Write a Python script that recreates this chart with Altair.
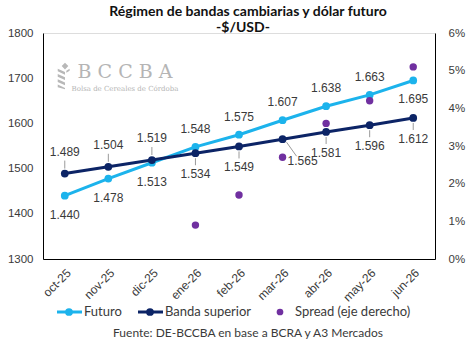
import altair as alt
import pandas as pd

# ---- data ----
months = ["oct-25", "nov-25", "dic-25", "ene-26", "feb-26", "mar-26", "abr-26", "may-26", "jun-26"]
futuro = [1440, 1478, 1513, 1548, 1575, 1607, 1638, 1663, 1695]
banda = [1489, 1504, 1519, 1534, 1549, 1565, 1581, 1596, 1612]
spread = [None, None, None, 0.9, 1.7, 2.7, 3.6, 4.2, 5.1]
left_ticks = [1300, 1400, 1500, 1600, 1700, 1800]
right_ticks = [0, 1, 2, 3, 4, 5, 6]

# label placement (style)
fut_below = ["oct-25", "nov-25", "dic-25", "jun-26"]
banda_above = ["oct-25", "nov-25", "dic-25"]
banda_diag = ["mar-26"]


def fmt(v):
    return f"{v:,}".replace(",", ".")


df = pd.DataFrame({
    "mes": months,
    "futuro": futuro,
    "banda": banda,
    "spread": spread,
    "fut_lbl": [fmt(v) for v in futuro],
    "banda_lbl": [fmt(v) for v in banda],
})

C_FUT = "#1CB3EC"
C_BANDA = "#0C2466"
C_SPREAD = "#7030A0"
TXT = "#3a3a3a"
FONT = "Liberation Sans"

x_enc = alt.X(
    "mes:N", sort=months,
    scale=alt.Scale(type="point", padding=0.5),
    axis=alt.Axis(title=None, labelAngle=-45, ticks=False, domainColor="black",
                  domainWidth=1, labelFontSize=12, labelColor=TXT, labelFont=FONT,
                  labelPadding=8),
)
yscale = alt.Scale(domain=[1300, 1800], nice=False, zero=False)
left_axis = alt.Axis(title=None, values=left_ticks, grid=False, ticks=False, format="d",
                     domainColor="black", labelFontSize=11.5, labelColor=TXT,
                     labelFont=FONT, labelPadding=10)


def yl(field):
    return alt.Y(f"{field}:Q", scale=yscale, axis=left_axis)


base = alt.Chart(df)

fut_line = base.mark_line(color=C_FUT, strokeWidth=3,
                          point=alt.OverlayMarkDef(size=60, filled=True, color=C_FUT, opacity=1)).encode(
    x=x_enc, y=yl("futuro"))
banda_line = base.mark_line(color=C_BANDA, strokeWidth=3,
                            point=alt.OverlayMarkDef(size=60, filled=True, color=C_BANDA, opacity=1)).encode(
    x=x_enc, y=yl("banda"))

lbl = dict(fontSize=12, font=FONT, color=TXT)
fut_up = base.transform_filter(
    alt.FieldOneOfPredicate(field="mes", oneOf=[m for m in months if m not in fut_below])
).mark_text(dy=-18, **lbl).encode(x=x_enc, y=yl("futuro"), text="fut_lbl:N")
fut_dn = base.transform_filter(
    alt.FieldOneOfPredicate(field="mes", oneOf=fut_below)
).mark_text(dy=19, **lbl).encode(x=x_enc, y=yl("futuro"), text="fut_lbl:N")

ban_up = base.transform_filter(
    alt.FieldOneOfPredicate(field="mes", oneOf=banda_above)
).mark_text(dy=-22, **lbl).encode(x=x_enc, y=yl("banda"), text="banda_lbl:N")
ban_dn = base.transform_filter(
    alt.FieldOneOfPredicate(field="mes", oneOf=[m for m in months if m not in banda_above + banda_diag])
).mark_text(dy=21, **lbl).encode(x=x_enc, y=yl("banda"), text="banda_lbl:N")
ban_dg = base.transform_filter(
    alt.FieldOneOfPredicate(field="mes", oneOf=banda_diag)
).mark_text(dx=20, dy=22, **lbl).encode(x=x_enc, y=yl("banda"), text="banda_lbl:N")

lead = dict(color="#9a9a9a", strokeWidth=1)
lead_up = base.transform_filter(
    alt.FieldOneOfPredicate(field="mes", oneOf=banda_above)
).mark_rule(yOffset=-5, y2Offset=-13, **lead).encode(x=x_enc, y=yl("banda"), y2="banda:Q")
lead_dn = base.transform_filter(
    alt.FieldOneOfPredicate(field="mes", oneOf=[m for m in months if m not in banda_above + banda_diag])
).mark_rule(yOffset=5, y2Offset=12, **lead).encode(x=x_enc, y=yl("banda"), y2="banda:Q")
lead_dg = base.transform_filter(
    alt.FieldOneOfPredicate(field="mes", oneOf=banda_diag)
).mark_rule(xOffset=4, x2Offset=14, yOffset=3, y2Offset=17, **lead).encode(
    x=x_enc, x2="mes:N", y=yl("banda"), y2="banda:Q")

left = alt.layer(fut_line, lead_up, lead_dn, lead_dg, banda_line, fut_up, fut_dn, ban_up, ban_dn, ban_dg)

right = base.mark_circle(size=55, color=C_SPREAD, opacity=1).encode(
    x=x_enc,
    y=alt.Y("spread:Q", scale=alt.Scale(domain=[0, 6], nice=False),
            axis=alt.Axis(title=None, orient="right", values=right_ticks, grid=False,
                          ticks=False, domainColor="black", labelFontSize=11.5,
                          labelColor=TXT, labelFont=FONT, labelPadding=13,
                          labelExpr="datum.value + '%'")),
)

one = alt.Chart(pd.DataFrame({"a": [0]}))
TF = "Lato"


def txt(s, x, y, size, weight="normal", align="center", color=TXT, font=TF):
    return one.mark_text(text=s, fontSize=size, fontWeight=weight, align=align,
                         baseline="middle", color=color, font=font).encode(
        x=alt.value(x), y=alt.value(y))


title1 = txt("Régimen de bandas cambiarias y dólar futuro", 205, -21, 14, "bold", color="#111")
title2 = txt("-$/USD-", 200, -5, 14, "bold", color="#111")

# watermark
wm1 = txt("B C C B A", 82, 39, 19, color="#b5b5b5", font="DejaVu Serif")
wm2 = txt("Bolsa de Cereales de Córdoba", 82, 56, 7, color="#b5b5b5", font="DejaVu Serif")
wheat_path = ("M0,-1L0.25,-0.75L0,-0.5L-0.25,-0.75Z "
              "M-0.55,-0.55L0,-0.3L0,-0.1L-0.55,-0.35Z "
              "M-0.55,-0.15L0,0.1L0,0.3L-0.55,0.05Z "
              "M-0.55,0.25L0,0.5L0,0.7L-0.55,0.45Z "
              "M-0.55,0.65L0,0.9L0,1L-0.55,0.85Z "
              "M0.1,-0.4L0.35,-0.55L0.35,-0.4L0.1,-0.25Z")
wheat = one.mark_point(shape=wheat_path, filled=True, color="#b8b8b8", opacity=1, size=700,
                       strokeWidth=0).encode(x=alt.value(22), y=alt.value(43))

# legend
LY = 279
leg = [
    one.mark_rule(color=C_FUT, strokeWidth=3).encode(x=alt.value(14), x2=alt.value(39), y=alt.value(LY)),
    one.mark_circle(color=C_FUT, size=60, opacity=1).encode(x=alt.value(26), y=alt.value(LY)),
    txt("Futuro", 41, LY, 13, align="left"),
    one.mark_rule(color=C_BANDA, strokeWidth=3).encode(x=alt.value(95), x2=alt.value(120), y=alt.value(LY)),
    one.mark_circle(color=C_BANDA, size=60, opacity=1).encode(x=alt.value(107), y=alt.value(LY)),
    txt("Banda superior", 122, LY, 13, align="left"),
    one.mark_circle(color=C_SPREAD, size=45, opacity=1).encode(x=alt.value(237), y=alt.value(LY)),
    txt("Spread (eje derecho)", 252, LY, 13, align="left"),
]
source = txt("Fuente: DE-BCCBA en base a BCRA y A3 Mercados", 205, 300, 12)

chart = alt.layer(
    left, right, wheat, wm1, wm2, title1, title2, source, *leg
).resolve_scale(y="independent").properties(
    width=392, height=226,
    autosize=alt.AutoSizeParams(type="none"),
    padding={"left": 43, "top": 33, "right": 39, "bottom": 83},
).configure_view(stroke=None).configure(background="white")

chart.save("out.html", embed_options={"renderer": "svg", "actions": False})
